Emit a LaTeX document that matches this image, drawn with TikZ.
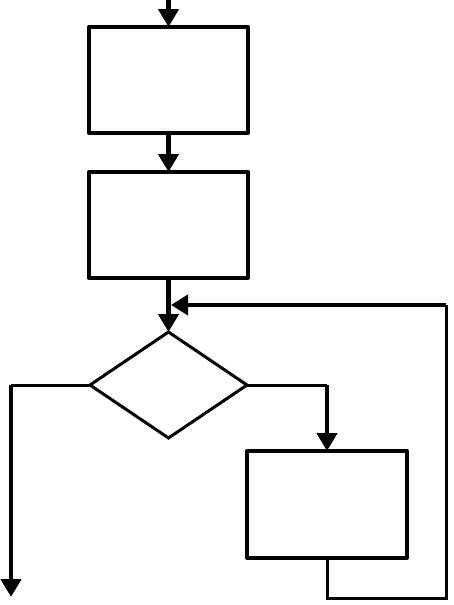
\documentclass[tikz,border=0pt]{standalone}
\usetikzlibrary{arrows.meta,shapes.geometric}
\begin{document}
\begin{tikzpicture}[x=1pt,y=-1pt,
  procbox/.style={draw,line width=3.3pt,line cap=round,line join=round,minimum width=159pt,minimum height=106pt,inner sep=0pt,outer sep=0pt},
  decbox/.style={draw,diamond,line width=3pt,minimum width=157pt,minimum height=106pt,inner sep=0pt,outer sep=0pt},
  flowarrow/.style={line width=4.5pt,-{Triangle[length=18pt,width=20pt]}},
  thinline/.style={line width=3pt},
  fbarrow/.style={line width=3.8pt,-{Triangle[length=17pt,width=20pt]}}]
\useasboundingbox (0,0) rectangle (453,605);
\fill[white] (0,0) rectangle (453,605);
\node[procbox] (b1) at (168.5,80) {};
\node[procbox] (b2) at (168.5,225) {};
\node[decbox] (d) at (168.5,385) {};
\node[procbox,minimum width=160pt,minimum height=107pt] (b3) at (327,504.5) {};
\coordinate (top) at (168.5,0);
\coordinate (lend) at (11,597);
\coordinate (rbot) at (327,598);
\coordinate (rcorner) at (446,598);
\coordinate (rtop) at (446,305);
\coordinate (fb) at (171,305);
\coordinate (rturn) at (327,385);
\coordinate (lturn) at (11,385);
\draw[flowarrow] (top) -- (b1.north);
\draw[flowarrow] (b1.south) -- (b2.north);
\draw[flowarrow] (b2.south) -- (d.north);
\draw[thinline] (d.west) -- (lturn);
\draw[flowarrow] (lturn) -- (lend);
\draw[thinline] (d.east) -- (rturn);
\draw[flowarrow] (rturn) -- (b3.north);
\draw[thinline,line join=miter] (b3.south) -- (rbot) -- (rcorner) -- (rtop);
\draw[fbarrow] (rtop) -- (fb);
\end{tikzpicture}
\end{document}
